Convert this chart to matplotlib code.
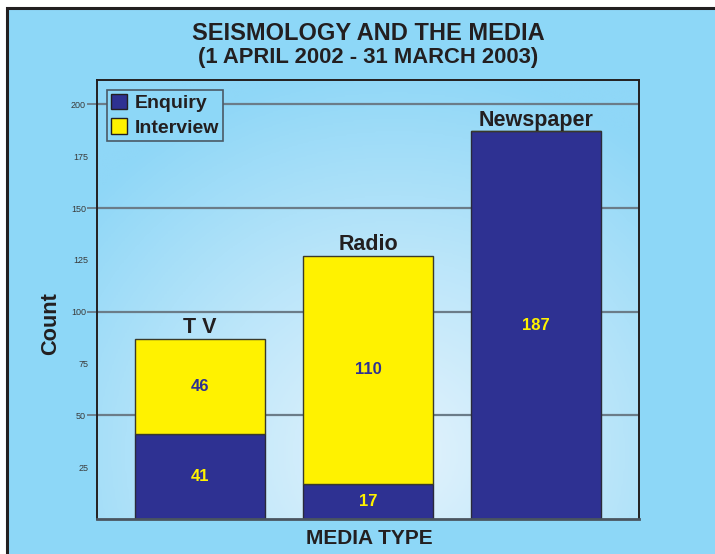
import numpy as np
import matplotlib as mpl
mpl.use("Agg")
import matplotlib.pyplot as plt
from matplotlib.patches import Rectangle, Patch
from matplotlib.colors import LinearSegmentedColormap

# data
mediaTypes = ["T V", "Radio", "Newspaper"]
enquiry = [41, 17, 187]
interview = [46, 110, 0]
seriesNames = ["Enquiry", "Interview"]
titleLines = ["SEISMOLOGY AND THE MEDIA", "(1 APRIL 2002 - 31 MARCH 2003)"]
majorTicks = [50, 100, 150, 200]
minorTicks = [25, 75, 125, 175]

NAVY = "#2E3192"
YELLOW = "#FFF200"
PANEL = "#8DD7F7"
TEXT = "#231F20"
GRID = "#6B7C88"

plt.rcParams["font.family"] = ["Liberation Sans", "DejaVu Sans"]

fig = plt.figure(figsize=(7.15, 5.54), dpi=100)
fig.patch.set_facecolor("white")

# outer light blue panel with black border
fig.patches.append(Rectangle((7/715, -0.1), 1.2, 1.1 - 8/554, transform=fig.transFigure,
                             facecolor=PANEL, edgecolor="#231F20", linewidth=2.2, zorder=-5))

ax = fig.add_axes([97/715, 1 - 519/554, 542/715, 439/554])
ax.set_zorder(2)
ax.set_xlim(-0.613, 2.613)
ax.set_ylim(0, 211.8)

# radial gradient background
gx, gy = np.meshgrid(np.linspace(0, 1, 300), np.linspace(0, 1, 300))
r = np.sqrt(((gx - 0.55) * 1.0) ** 2 + ((gy - 0.15) * 0.85) ** 2)
r = np.clip(r / 0.75, 0, 1)
cmap = LinearSegmentedColormap.from_list("bg", ["#E4F3FC", "#BCE6FA", "#8FD7F7"])
ax.imshow(r, cmap=cmap, extent=[-0.613, 2.613, 0, 211.8], origin="lower",
          aspect="auto", zorder=0, vmin=0, vmax=1, interpolation="bilinear")

# gridlines
for yv in majorTicks:
    ax.axhline(yv, color=GRID, linewidth=1.6, zorder=1)

x = np.arange(len(mediaTypes))
w = 0.774
ax.bar(x, enquiry, width=w, color=NAVY, edgecolor="#2a2a3a", linewidth=1.0, zorder=3)
ax.bar(x, interview, width=w, bottom=enquiry, color=YELLOW, edgecolor="#3a3a2a",
       linewidth=1.0, zorder=3)

valueFont = dict(fontsize=12, fontweight="bold", ha="center", va="center", zorder=4)
for i in range(len(mediaTypes)):
    if enquiry[i] > 0:
        ax.text(x[i], enquiry[i] / 2, str(enquiry[i]), color=YELLOW, **valueFont)
    if interview[i] > 0:
        ax.text(x[i], enquiry[i] + interview[i] / 2, str(interview[i]), color=NAVY, **valueFont)
    total = enquiry[i] + interview[i]
    ax.annotate(mediaTypes[i], (x[i], total), xytext=(0, 4), textcoords="offset points",
                ha="center", va="baseline", fontsize=15.5, fontweight="bold", color=TEXT,
                zorder=4)

# axes styling
ax.set_xticks([])
ax.set_yticks(majorTicks)
ax.set_yticks(minorTicks, minor=True)
ax.set_yticklabels([str(t) for t in majorTicks])
ax.set_yticklabels([str(t) for t in minorTicks], minor=True)
ax.tick_params(axis="y", which="major", length=7, width=1.3, color=GRID, pad=1,
               labelsize=6.5, labelcolor="#3a3a3a")
ax.tick_params(axis="y", which="minor", length=0, pad=6, labelsize=6.5, labelcolor="#3a3a3a")
for s in ["left", "top", "right"]:
    ax.spines[s].set_color("#231F20")
    ax.spines[s].set_linewidth(1.4)
ax.spines["bottom"].set_color("#4a5560")
ax.spines["bottom"].set_linewidth(2.0)
for s in ax.spines.values():
    s.set_zorder(5)

# titles and axis labels
fig.text(0.5147, 1 - 33/554, titleLines[0], ha="center", va="center",
         fontsize=17, fontweight="bold", color=TEXT)
fig.text(0.5147, 1 - 58/554, titleLines[1], ha="center", va="center",
         fontsize=15.8, fontweight="bold", color=TEXT)
fig.text(50.5/715, 1 - 324/554, "Count", rotation=90, ha="center", va="center",
         fontsize=15.7, fontweight="bold", color=TEXT)
fig.text(369/715, 1 - 538/554, "MEDIA TYPE", ha="center", va="center",
         fontsize=15, fontweight="bold", color=TEXT)

handles = [Patch(facecolor=NAVY, edgecolor="#231F20", linewidth=1.0),
           Patch(facecolor=YELLOW, edgecolor="#231F20", linewidth=1.0)]
leg = fig.legend(handles, seriesNames, loc="upper left",
                 bbox_to_anchor=(107/715, 1 - 90/554), borderaxespad=0,
                 fancybox=False, framealpha=1, facecolor=PANEL, edgecolor="#4a5a66",
                 prop=dict(size=14, weight="bold"), handlelength=0.85, handleheight=0.85,
                 handletextpad=0.4, labelspacing=0.3, borderpad=0.2)
leg.get_frame().set_linewidth(1.2)
leg.set_zorder(10)
for t in leg.get_texts():
    t.set_color(TEXT)

fig.savefig("out.png", dpi=100)
